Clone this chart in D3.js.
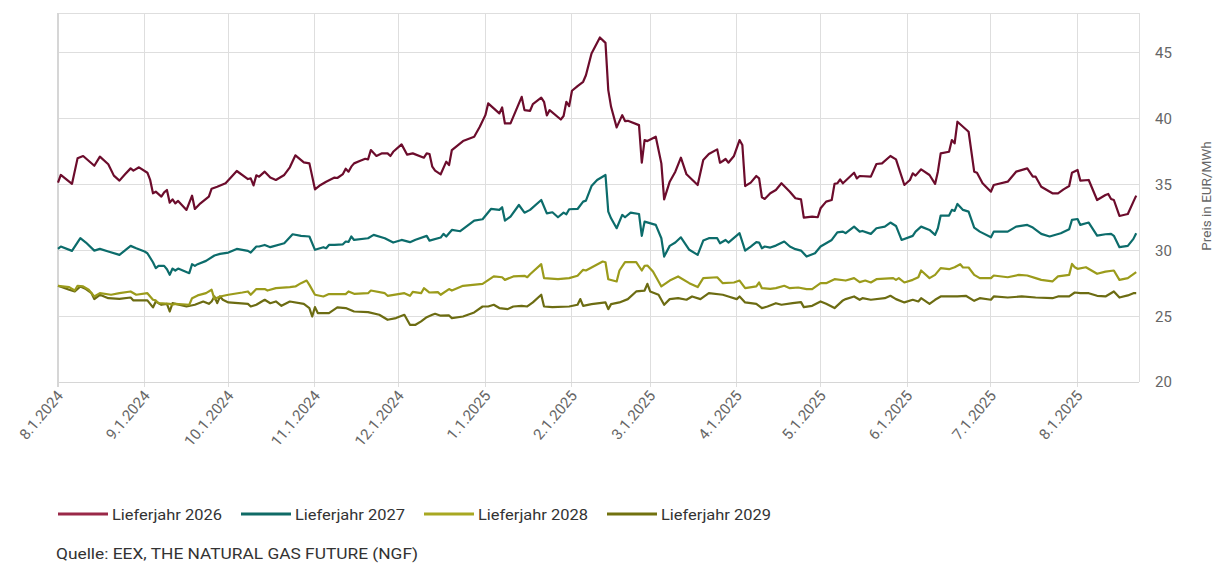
<!DOCTYPE html>
<html><head><meta charset="utf-8">
<script src="https://cdn.jsdelivr.net/npm/d3@7/dist/d3.min.js"></script>
<style>body{margin:0;background:#fff;} svg{display:block;font-family:Roboto,"Noto Sans",sans-serif;}</style>
</head><body><svg id="c" width="1214" height="564"></svg>
<script>
const seriesNames = ["Lieferjahr 2026","Lieferjahr 2027","Lieferjahr 2028","Lieferjahr 2029"];
const lj2026 = [["2024-08-01",35.13],["2024-08-02",35.71],["2024-08-06",35.03],["2024-08-08",36.97],["2024-08-10",37.15],["2024-08-14",36.41],["2024-08-16",37.10],["2024-08-19",36.52],["2024-08-21",35.66],["2024-08-23",35.28],["2024-08-25",35.76],["2024-08-27",36.21],["2024-08-28",36.04],["2024-08-30",36.29],["2024-09-02",35.88],["2024-09-03",35.33],["2024-09-04",34.32],["2024-09-05",34.44],["2024-09-07",34.07],["2024-09-08",34.39],["2024-09-09",34.57],["2024-09-10",33.61],["2024-09-11",33.86],["2024-09-12",33.56],["2024-09-13",33.74],["2024-09-16",33.06],["2024-09-18",34.14],["2024-09-19",33.13],["2024-09-21",33.56],["2024-09-24",34.07],["2024-09-25",34.67],["2024-09-27",34.82],["2024-09-30",35.08],["2024-10-04",36.01],["2024-10-08",35.40],["2024-10-09",35.45],["2024-10-10",34.92],["2024-10-11",35.68],["2024-10-12",35.58],["2024-10-14",35.96],["2024-10-16",35.51],["2024-10-18",35.33],["2024-10-21",35.71],["2024-10-23",36.29],["2024-10-25",37.20],["2024-10-28",36.67],["2024-10-30",36.59],["2024-11-01",34.62],["2024-11-03",34.95],["2024-11-05",35.20],["2024-11-08",35.51],["2024-11-09",35.48],["2024-11-11",35.78],["2024-11-12",36.19],["2024-11-13",35.96],["2024-11-14",36.34],["2024-11-15",36.59],["2024-11-17",36.77],["2024-11-19",36.94],["2024-11-20",36.89],["2024-11-21",37.60],["2024-11-23",37.15],["2024-11-25",37.35],["2024-11-27",37.35],["2024-11-28",37.15],["2024-11-29",37.47],["2024-12-02",38.03],["2024-12-04",37.25],["2024-12-06",37.35],["2024-12-10",37.02],["2024-12-11",37.35],["2024-12-12",37.30],["2024-12-13",36.34],["2024-12-14",36.04],["2024-12-16",35.76],["2024-12-18",36.72],["2024-12-19",36.46],["2024-12-20",37.60],["2024-12-24",38.28],["2024-12-28",38.61],["2024-12-30",39.37],["2025-01-01",40.25],["2025-01-02",41.14],["2025-01-06",40.38],["2025-01-07",40.83],["2025-01-08",39.62],["2025-01-10",39.62],["2025-01-12",40.63],["2025-01-14",41.64],["2025-01-15",40.63],["2025-01-17",40.58],["2025-01-18",41.09],["2025-01-21",41.57],["2025-01-22",41.26],["2025-01-23",40.23],["2025-01-24",40.63],["2025-01-28",39.92],["2025-01-29",40.18],["2025-01-30",41.26],["2025-01-31",40.93],["2025-02-01",42.10],["2025-02-03",42.45],["2025-02-05",42.78],["2025-02-06",43.28],["2025-02-08",44.92],["2025-02-11",46.14],["2025-02-13",45.73],["2025-02-14",42.15],["2025-02-15",40.88],["2025-02-17",39.32],["2025-02-19",40.25],["2025-02-20",39.80],["2025-02-21",39.82],["2025-02-25",39.49],["2025-02-26",36.64],["2025-02-27",38.36],["2025-02-28",38.28],["2025-03-03",38.61],["2025-03-05",36.59],["2025-03-06",33.86],["2025-03-08",35.20],["2025-03-10",35.96],["2025-03-12",37.02],["2025-03-14",35.76],["2025-03-18",34.95],["2025-03-20",36.84],["2025-03-22",37.30],["2025-03-25",37.65],["2025-03-26",36.64],["2025-03-27",36.77],["2025-03-28",36.92],["2025-03-29",36.64],["2025-03-31",37.15],["2025-04-02",38.36],["2025-04-03",37.98],["2025-04-04",34.87],["2025-04-06",35.13],["2025-04-08",35.63],["2025-04-09",35.45],["2025-04-10",34.02],["2025-04-11",33.89],["2025-04-13",34.32],["2025-04-15",34.57],["2025-04-17",35.08],["2025-04-20",34.44],["2025-04-22",33.94],["2025-04-24",33.86],["2025-04-25",32.47],["2025-04-28",32.55],["2025-04-30",32.50],["2025-05-01",33.18],["2025-05-03",33.69],["2025-05-05",33.81],["2025-05-06",35.03],["2025-05-07",35.08],["2025-05-08",35.38],["2025-05-09",35.08],["2025-05-13",35.88],["2025-05-14",35.45],["2025-05-15",35.63],["2025-05-19",35.58],["2025-05-21",36.54],["2025-05-23",36.59],["2025-05-26",37.15],["2025-05-28",36.89],["2025-05-31",34.95],["2025-06-02",35.33],["2025-06-03",35.83],["2025-06-04",35.66],["2025-06-06",36.14],["2025-06-09",35.71],["2025-06-11",35.03],["2025-06-12",35.96],["2025-06-13",37.35],["2025-06-16",37.47],["2025-06-17",38.36],["2025-06-18",38.11],["2025-06-19",39.75],["2025-06-21",39.37],["2025-06-23",38.99],["2025-06-25",35.96],["2025-06-26",35.88],["2025-06-28",35.08],["2025-07-01",34.44],["2025-07-02",34.95],["2025-07-07",35.20],["2025-07-10",35.96],["2025-07-14",36.21],["2025-07-16",35.58],["2025-07-17",35.58],["2025-07-19",34.82],["2025-07-23",34.32],["2025-07-25",34.32],["2025-07-27",34.62],["2025-07-29",34.87],["2025-07-30",35.88],["2025-08-01",36.09],["2025-08-02",35.28],["2025-08-05",35.33],["2025-08-08",33.81],["2025-08-11",34.19],["2025-08-12",34.27],["2025-08-13",33.89],["2025-08-14",33.81],["2025-08-16",32.60],["2025-08-19",32.75],["2025-08-21",33.69],["2025-08-22",34.14]];
const lj2027 = [["2024-08-01",30.10],["2024-08-02",30.28],["2024-08-06",29.95],["2024-08-09",30.91],["2024-08-11",30.58],["2024-08-14",29.97],["2024-08-16",30.10],["2024-08-19",29.90],["2024-08-23",29.65],["2024-08-27",30.33],["2024-08-29",30.15],["2024-09-01",29.90],["2024-09-02",29.77],["2024-09-04",29.09],["2024-09-05",28.64],["2024-09-06",28.81],["2024-09-08",28.81],["2024-09-09",28.56],["2024-09-10",28.13],["2024-09-11",28.61],["2024-09-12",28.46],["2024-09-13",28.61],["2024-09-17",28.26],["2024-09-18",28.94],["2024-09-19",28.81],["2024-09-20",28.94],["2024-09-23",29.19],["2024-09-26",29.60],["2024-09-28",29.72],["2024-10-01",29.82],["2024-10-04",30.10],["2024-10-08",29.95],["2024-10-09",29.82],["2024-10-11",30.28],["2024-10-12",30.28],["2024-10-14",30.40],["2024-10-16",30.23],["2024-10-21",30.53],["2024-10-24",31.21],["2024-10-27",31.09],["2024-10-30",31.04],["2024-11-01",30.03],["2024-11-04",30.23],["2024-11-05",30.15],["2024-11-06",30.40],["2024-11-08",30.40],["2024-11-11",30.45],["2024-11-12",30.66],["2024-11-13",30.63],["2024-11-14",31.04],["2024-11-15",30.78],["2024-11-20",30.91],["2024-11-22",31.16],["2024-11-26",30.91],["2024-11-29",30.58],["2024-12-02",30.78],["2024-12-05",30.61],["2024-12-07",30.80],["2024-12-11",31.09],["2024-12-12",30.73],["2024-12-16",30.96],["2024-12-17",31.24],["2024-12-18",31.04],["2024-12-20",31.54],["2024-12-23",31.44],["2024-12-28",32.25],["2024-12-31",32.35],["2025-01-03",33.13],["2025-01-06",33.06],["2025-01-07",33.26],["2025-01-08",32.25],["2025-01-10",32.55],["2025-01-13",33.43],["2025-01-15",32.85],["2025-01-17",33.06],["2025-01-21",33.81],["2025-01-23",32.80],["2025-01-25",32.88],["2025-01-27",32.50],["2025-01-29",32.85],["2025-01-30",32.73],["2025-01-31",33.11],["2025-02-03",33.13],["2025-02-05",33.69],["2025-02-06",33.76],["2025-02-08",34.87],["2025-02-10",35.33],["2025-02-13",35.71],["2025-02-14",32.93],["2025-02-15",32.42],["2025-02-17",31.67],["2025-02-19",32.68],["2025-02-20",32.50],["2025-02-22",32.85],["2025-02-25",32.75],["2025-02-26",31.09],["2025-02-27",32.17],["2025-03-03",31.92],["2025-03-05",30.91],["2025-03-06",29.52],["2025-03-08",30.33],["2025-03-10",30.58],["2025-03-12",30.98],["2025-03-15",30.03],["2025-03-18",29.65],["2025-03-20",30.73],["2025-03-22",30.91],["2025-03-25",30.91],["2025-03-26",30.53],["2025-03-28",30.78],["2025-03-29",30.58],["2025-04-02",31.29],["2025-04-04",29.97],["2025-04-06",30.28],["2025-04-08",30.61],["2025-04-09",30.58],["2025-04-10",30.15],["2025-04-11",30.28],["2025-04-13",30.20],["2025-04-15",30.35],["2025-04-18",30.66],["2025-04-20",30.28],["2025-04-22",30.08],["2025-04-24",29.97],["2025-04-26",29.52],["2025-04-29",29.77],["2025-05-01",30.28],["2025-05-05",30.78],["2025-05-07",31.36],["2025-05-09",31.41],["2025-05-10",31.29],["2025-05-13",31.79],["2025-05-15",31.41],["2025-05-16",31.46],["2025-05-19",31.24],["2025-05-21",31.67],["2025-05-24",31.79],["2025-05-26",32.10],["2025-05-28",31.84],["2025-05-30",30.78],["2025-06-03",31.09],["2025-06-04",31.41],["2025-06-06",31.79],["2025-06-09",31.54],["2025-06-11",31.16],["2025-06-12",31.67],["2025-06-13",32.63],["2025-06-16",32.63],["2025-06-17",33.06],["2025-06-18",32.98],["2025-06-19",33.51],["2025-06-21",33.06],["2025-06-23",32.93],["2025-06-25",31.72],["2025-06-27",31.41],["2025-07-01",30.98],["2025-07-02",31.41],["2025-07-07",31.41],["2025-07-10",31.79],["2025-07-14",31.92],["2025-07-16",31.72],["2025-07-19",31.24],["2025-07-22",31.04],["2025-07-26",31.29],["2025-07-29",31.59],["2025-07-30",32.30],["2025-08-01",32.37],["2025-08-02",31.92],["2025-08-05",32.10],["2025-08-08",31.11],["2025-08-11",31.21],["2025-08-13",31.24],["2025-08-14",31.09],["2025-08-16",30.23],["2025-08-19",30.33],["2025-08-21",30.86],["2025-08-22",31.29]];
const lj2028 = [["2024-08-01",27.30],["2024-08-05",27.20],["2024-08-07",26.94],["2024-08-08",27.30],["2024-08-10",27.25],["2024-08-12",27.00],["2024-08-14",26.49],["2024-08-16",26.74],["2024-08-20",26.62],["2024-08-23",26.74],["2024-08-27",26.87],["2024-08-29",26.62],["2024-09-02",26.74],["2024-09-04",26.24],["2024-09-05",26.19],["2024-09-06",25.98],["2024-09-10",25.93],["2024-09-11",25.86],["2024-09-12",25.93],["2024-09-17",25.86],["2024-09-18",26.36],["2024-09-20",26.57],["2024-09-23",26.74],["2024-09-25",27.00],["2024-09-26",26.29],["2024-09-28",26.49],["2024-10-01",26.62],["2024-10-06",26.79],["2024-10-08",26.87],["2024-10-09",26.62],["2024-10-11",27.05],["2024-10-14",27.05],["2024-10-15",26.94],["2024-10-18",27.12],["2024-10-23",27.20],["2024-10-25",27.25],["2024-10-27",27.50],["2024-10-29",27.70],["2024-10-30",27.37],["2024-11-01",26.62],["2024-11-04",26.49],["2024-11-06",26.67],["2024-11-12",26.67],["2024-11-13",26.87],["2024-11-15",26.69],["2024-11-20",26.74],["2024-11-21",26.94],["2024-11-26",26.74],["2024-11-27",26.54],["2024-12-03",26.74],["2024-12-05",26.54],["2024-12-06",26.84],["2024-12-09",26.74],["2024-12-10",27.12],["2024-12-12",26.79],["2024-12-15",26.82],["2024-12-16",26.62],["2024-12-19",27.05],["2024-12-20",26.94],["2024-12-24",27.30],["2024-12-31",27.45],["2025-01-04",28.01],["2025-01-07",27.95],["2025-01-08",27.75],["2025-01-11",28.01],["2025-01-15",28.06],["2025-01-16",27.95],["2025-01-17",28.18],["2025-01-21",28.94],["2025-01-22",27.88],["2025-01-27",27.80],["2025-01-31",27.88],["2025-02-03",28.06],["2025-02-05",28.51],["2025-02-06",28.46],["2025-02-08",28.69],["2025-02-12",29.14],["2025-02-13",29.09],["2025-02-14",27.80],["2025-02-17",27.63],["2025-02-18",28.46],["2025-02-20",29.09],["2025-02-24",29.09],["2025-02-26",28.46],["2025-02-27",28.81],["2025-02-28",28.84],["2025-03-02",28.38],["2025-03-05",27.25],["2025-03-08",27.70],["2025-03-11",28.01],["2025-03-15",27.50],["2025-03-18",27.20],["2025-03-20",27.88],["2025-03-25",27.95],["2025-03-27",27.50],["2025-03-31",27.55],["2025-04-02",27.70],["2025-04-04",27.12],["2025-04-08",27.25],["2025-04-09",27.55],["2025-04-10",27.12],["2025-04-13",27.07],["2025-04-15",27.12],["2025-04-18",27.30],["2025-04-20",27.12],["2025-04-23",27.17],["2025-04-26",27.05],["2025-04-28",27.05],["2025-05-01",27.50],["2025-05-03",27.50],["2025-05-06",27.80],["2025-05-10",27.70],["2025-05-13",27.88],["2025-05-15",27.58],["2025-05-17",27.70],["2025-05-19",27.55],["2025-05-21",27.80],["2025-05-27",27.88],["2025-05-28",27.75],["2025-05-29",27.88],["2025-05-31",27.55],["2025-06-03",27.75],["2025-06-05",27.95],["2025-06-06",28.46],["2025-06-09",27.88],["2025-06-11",28.13],["2025-06-13",28.64],["2025-06-16",28.56],["2025-06-18",28.71],["2025-06-20",28.94],["2025-06-21",28.69],["2025-06-23",28.69],["2025-06-25",28.13],["2025-06-27",27.88],["2025-07-01",27.88],["2025-07-02",28.08],["2025-07-07",27.95],["2025-07-11",28.13],["2025-07-14",28.08],["2025-07-17",27.88],["2025-07-19",27.75],["2025-07-23",27.63],["2025-07-25",28.01],["2025-07-29",28.13],["2025-07-30",28.96],["2025-07-31",28.71],["2025-08-01",28.59],["2025-08-04",28.71],["2025-08-08",28.21],["2025-08-11",28.38],["2025-08-14",28.46],["2025-08-16",27.75],["2025-08-19",27.88],["2025-08-21",28.18],["2025-08-22",28.33]];
const lj2029 = [["2024-08-01",27.30],["2024-08-05",27.00],["2024-08-07",26.87],["2024-08-09",27.25],["2024-08-11",27.05],["2024-08-13",26.74],["2024-08-14",26.29],["2024-08-16",26.62],["2024-08-19",26.36],["2024-08-23",26.31],["2024-08-27",26.41],["2024-08-28",26.19],["2024-09-02",26.19],["2024-09-04",25.66],["2024-09-05",26.11],["2024-09-07",25.86],["2024-09-09",25.93],["2024-09-10",25.35],["2024-09-11",25.98],["2024-09-16",25.73],["2024-09-19",25.86],["2024-09-22",26.11],["2024-09-24",25.93],["2024-09-25",26.11],["2024-09-26",26.49],["2024-09-27",25.98],["2024-09-28",26.49],["2024-09-29",26.24],["2024-10-01",26.04],["2024-10-08",25.93],["2024-10-09",25.73],["2024-10-11",25.86],["2024-10-14",26.24],["2024-10-16",25.98],["2024-10-18",26.11],["2024-10-20",25.78],["2024-10-23",26.11],["2024-10-28",25.93],["2024-10-30",25.61],["2024-10-31",24.97],["2024-11-01",25.68],["2024-11-02",25.23],["2024-11-06",25.23],["2024-11-09",25.66],["2024-11-12",25.61],["2024-11-15",25.35],["2024-11-20",25.30],["2024-11-24",25.10],["2024-11-27",24.72],["2024-11-30",24.85],["2024-12-03",25.10],["2024-12-05",24.34],["2024-12-07",24.34],["2024-12-09",24.60],["2024-12-11",24.92],["2024-12-13",25.10],["2024-12-14",25.18],["2024-12-16",25.03],["2024-12-19",25.05],["2024-12-20",24.85],["2024-12-24",24.97],["2024-12-28",25.28],["2024-12-31",25.73],["2025-01-02",25.73],["2025-01-04",25.86],["2025-01-06",25.61],["2025-01-09",25.53],["2025-01-11",25.73],["2025-01-14",25.78],["2025-01-16",25.73],["2025-01-18",26.04],["2025-01-21",26.62],["2025-01-22",25.73],["2025-01-25",25.68],["2025-01-31",25.73],["2025-02-03",25.86],["2025-02-04",26.29],["2025-02-05",25.78],["2025-02-08",25.91],["2025-02-13",26.04],["2025-02-14",25.53],["2025-02-15",25.91],["2025-02-18",26.04],["2025-02-21",26.29],["2025-02-24",26.87],["2025-02-27",26.94],["2025-02-28",27.45],["2025-03-01",26.87],["2025-03-04",26.62],["2025-03-06",25.86],["2025-03-08",26.29],["2025-03-11",26.36],["2025-03-14",26.24],["2025-03-16",26.49],["2025-03-19",26.29],["2025-03-22",26.74],["2025-03-27",26.62],["2025-03-29",26.49],["2025-04-01",26.29],["2025-04-02",26.49],["2025-04-04",26.04],["2025-04-08",25.93],["2025-04-10",25.61],["2025-04-12",25.73],["2025-04-15",25.98],["2025-04-17",25.86],["2025-04-21",25.98],["2025-04-24",26.06],["2025-04-25",25.68],["2025-04-28",25.78],["2025-05-01",26.11],["2025-05-03",25.93],["2025-05-06",25.61],["2025-05-09",26.19],["2025-05-10",26.29],["2025-05-13",26.49],["2025-05-15",26.24],["2025-05-16",26.36],["2025-05-19",26.24],["2025-05-24",26.36],["2025-05-26",26.54],["2025-05-28",26.29],["2025-05-31",26.04],["2025-06-03",26.24],["2025-06-05",26.11],["2025-06-06",26.36],["2025-06-09",25.93],["2025-06-11",26.24],["2025-06-13",26.49],["2025-06-19",26.49],["2025-06-22",26.54],["2025-06-25",26.16],["2025-06-27",26.36],["2025-07-01",26.24],["2025-07-02",26.49],["2025-07-07",26.41],["2025-07-12",26.49],["2025-07-17",26.41],["2025-07-23",26.36],["2025-07-25",26.49],["2025-07-29",26.49],["2025-07-31",26.79],["2025-08-02",26.74],["2025-08-05",26.74],["2025-08-08",26.54],["2025-08-11",26.49],["2025-08-14",26.87],["2025-08-16",26.41],["2025-08-19",26.57],["2025-08-21",26.74],["2025-08-22",26.74]];
const yTicks = [20, 25, 30, 35, 40, 45];
const xTicks = ["2024-08-01","2024-09-01","2024-10-01","2024-11-01","2024-12-01","2025-01-01","2025-02-01","2025-03-01","2025-04-01","2025-05-01","2025-06-01","2025-07-01","2025-08-01"];
const xDomain = ["2024-08-01","2025-08-23"];
const yDomain = [20, 48];
const axisTitle = "Preis in EUR/MWh";
const sourceText = "Quelle: EEX, THE NATURAL GAS FUTURE (NGF)";

const lineColors = ["#6c0c2c","#0c6c6b","#9b9b1b","#6c6c12"];
const swatchColors = ["#9a2848","#0f6b66","#a8a822","#72720f"];

const parse = d3.timeParse("%Y-%m-%d");
const fmt = d3.timeFormat("%-m.%-d.%Y");
const L = 58, R = 1139, T = 13, B = 382;
const svg = d3.select("#c");
const x = d3.scaleTime().domain(xDomain.map(parse)).range([L, R]);
const y = d3.scaleLinear().domain(yDomain).range([B, T]);

const grid = svg.append("g").attr("stroke", "#dedede").attr("stroke-width", 1).attr("shape-rendering", "crispEdges");
yTicks.forEach(v => grid.append("line").attr("x1", L).attr("x2", R).attr("y1", y(v)).attr("y2", y(v)));
xTicks.forEach(d => grid.append("line").attr("x1", x(parse(d))).attr("x2", x(parse(d))).attr("y1", T).attr("y2", B + 5));
grid.append("line").attr("x1", L).attr("x2", R).attr("y1", T).attr("y2", T);
grid.append("line").attr("x1", R).attr("x2", R).attr("y1", T).attr("y2", B);
grid.append("line").attr("x1", L).attr("x2", L).attr("y1", T).attr("y2", B + 5).attr("stroke", "#d6d6d6").attr("stroke-width", 1.5);
grid.append("line").attr("x1", L).attr("x2", R).attr("y1", B).attr("y2", B).attr("stroke", "#d6d6d6");

const yAx = svg.append("g").attr("fill", "#666").attr("font-size", "15px");
yTicks.forEach(v => yAx.append("text").attr("x", R + 16).attr("y", y(v)).attr("dy", "0.36em").text(v));
svg.append("text").attr("transform", `translate(${R + 72},196) rotate(-90)`)
  .attr("text-anchor", "middle").attr("fill", "#666").attr("font-size", "13.5px").text(axisTitle);

const xAx = svg.append("g").attr("fill", "#666").attr("font-size", "15px");
xTicks.forEach(d => {
  const px = x(parse(d));
  xAx.append("text").attr("text-anchor", "end")
    .attr("transform", `translate(${px + 6},${B + 14}) rotate(-50)`).text(fmt(parse(d)));
});

const series = [lj2026, lj2027, lj2028, lj2029];
const line = d3.line().x(d => x(parse(d[0]))).y(d => y(d[1]));
const plot = svg.append("g");
series.slice().reverse().forEach((s, i) => {
  const idx = series.length - 1 - i;
  plot.append("path").datum(s).attr("d", line).attr("fill", "none")
    .attr("stroke", lineColors[idx]).attr("stroke-width", 2.2).attr("stroke-linejoin", "round");
});

const leg = svg.append("g");
let lx = 58;
seriesNames.forEach((n, i) => {
  leg.append("line").attr("x1", lx).attr("x2", lx + 50).attr("y1", 514).attr("y2", 514)
    .attr("stroke", swatchColors[i]).attr("stroke-width", 3);
  leg.append("text").attr("x", lx + 54).attr("y", 519.5).attr("font-size", "15px").attr("fill", "#333")
    .attr("textLength", 110).attr("lengthAdjust", "spacingAndGlyphs").text(n);
  lx += 54 + 110 + 19;
});
svg.append("text").attr("x", 56).attr("y", 559).attr("font-size", "15px").attr("fill", "#333")
  .attr("textLength", 362).attr("lengthAdjust", "spacingAndGlyphs").text(sourceText);
</script></body></html>
